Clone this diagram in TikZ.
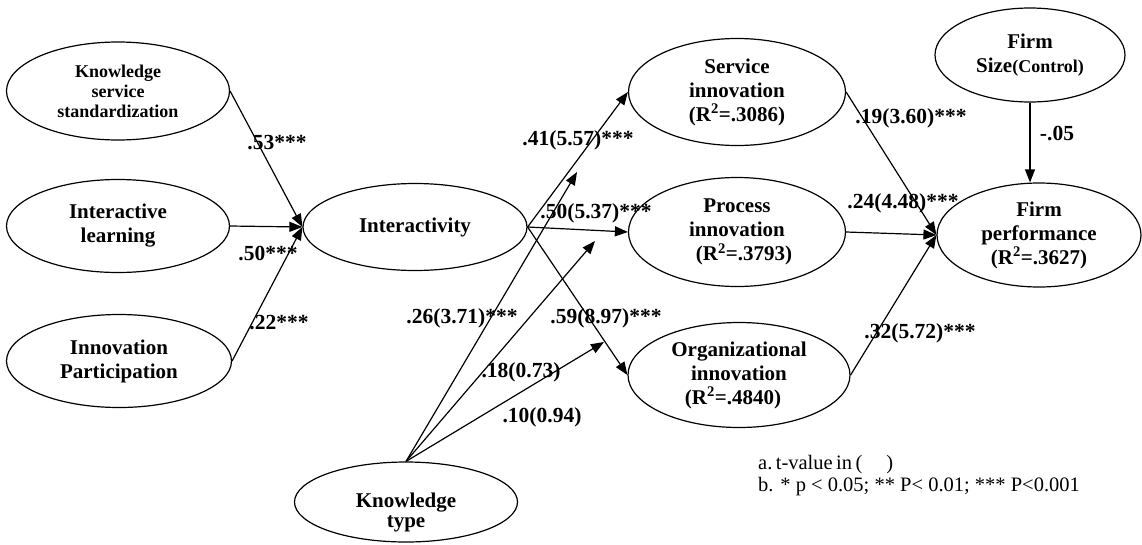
\documentclass[tikz,border=0pt]{standalone}
\usepackage{fontspec}
\setmainfont{Liberation Serif}
\usepackage{tikz}
\usetikzlibrary{shapes.geometric, arrows.meta, positioning}
\newcommand{\rsq}[1]{(R\textsuperscript{2}=#1)}
\tikzset{
  var/.style={ellipse, draw, line width=1.2pt, inner sep=0pt, align=center,
    font=\bfseries\fontsize{21}{24}\selectfont},
  arr/.style={-{Triangle[length=13pt,width=10pt]}, line width=1.2pt},
  coef/.style={font=\bfseries\fontsize{21.5}{22}\selectfont, inner sep=0pt},
  note/.style={font=\fontsize{20.5}{22}\selectfont, align=left, inner sep=0pt},
}

\begin{document}
\begin{tikzpicture}[x=1pt, y=-1pt]
  \useasboundingbox (0,0) rectangle (1142,544);

  % antecedents of interactivity
  \node[var, minimum width=223pt, minimum height=98pt,
        font=\bfseries\fontsize{18}{20}\selectfont] (kss) at (118,91)
        {Knowledge\\service\\standardization};
  \node[var, minimum width=223pt, minimum height=93pt] (learn) at (118,226)
        {Interactive\\learning};
  \node[var, minimum width=225pt, minimum height=93pt] (part) at (119,361)
        {Innovation\\Participation};
  \node[var, minimum width=224pt, minimum height=87pt] (inter) at (415,227)
        {Interactivity};
  \node[var, minimum width=223pt, minimum height=80pt] (ktype) at (406,502)
        {\raisebox{-25pt}[0pt][0pt]{\shortstack{Knowledge\\type}}};

  % innovation outcomes
  \node[var, minimum width=217pt, minimum height=107pt] (serv) at (737,92)
        {Service\\innovation\\\rsq{.3086}};
  \node[var, minimum width=217pt, minimum height=109pt] (proc) at (737,232)
        {Process\\innovation\\\hspace*{14pt}\rsq{.3793}};
  \node[var, minimum width=222pt, minimum height=105pt] (org) at (739,375)
        {Organizational\\innovation\\\rsq{.4840}\hspace*{12pt}};
  \node[var, minimum width=190pt, minimum height=94pt] (size) at (1030,55)
        {Firm\\Size{\fontsize{18}{20}\selectfont(Control)}};
  \node[var, minimum width=204pt, minimum height=104pt] (perf) at (1039,235)
        {Firm\\performance\\\rsq{.3627}};

  \coordinate (toserv) at (577,172);
  \coordinate (toproc) at (595,241);
  \coordinate (toorg)  at (604,342);

  \draw[arr] (kss.east)   -- (inter.west);
  \draw[arr] (learn.east) -- (inter.west);
  \draw[arr] (part.east)  -- (inter.west);

  \draw[arr] (inter.east) -- (serv.west);
  \draw[arr] (inter.east) -- (proc.west);
  \draw[arr] (inter.east) -- (org.west);

  \draw[arr] (ktype.north) -- (toserv);
  \draw[arr] (ktype.north) -- (toproc);
  \draw[arr] (ktype.north) -- (toorg);

  \draw[arr] (serv.east) -- (perf.west);
  \draw[arr] (proc.east) -- (perf.west);
  \draw[arr] (org.east)  -- (perf.west);
  \draw[arr] (size.south) -- (size.south |- perf.north);

  % path coefficients
  \node[coef] (c1)  at (277,143) {.53***};
  \node[coef] (c2)  at (268,253) {.50***};
  \node[coef] (c3)  at (279,323) {.22***};
  \node[coef] (c4)  at (578,140) {.41(5.57)***};
  \node[coef] (c5)  at (596,213) {.50(5.37)***};
  \node[coef] (c6)  at (462,318) {.26(3.71)***};
  \node[coef] (c7)  at (606,318) {.59(8.97)***};
  \node[coef] (c8)  at (521,372) {.18(0.73)};
  \node[coef] (c9)  at (542,417) {.10(0.94)};
  \node[coef] (c10) at (911,118) {.19(3.60)***};
  \node[coef] (c11) at (903,203) {.24(4.48)***};
  \node[coef] (c12) at (920,333) {.32(5.72)***};
  \node[coef] (c13) at (1057,133) {-.05};

  \node[note, anchor=west] (foot) at (758,476)
        {a.\,t-value\,in\,(\quad\,)\\b. * p < 0.05; ** P< 0.01; *** P<0.001};
\end{tikzpicture}
\end{document}
